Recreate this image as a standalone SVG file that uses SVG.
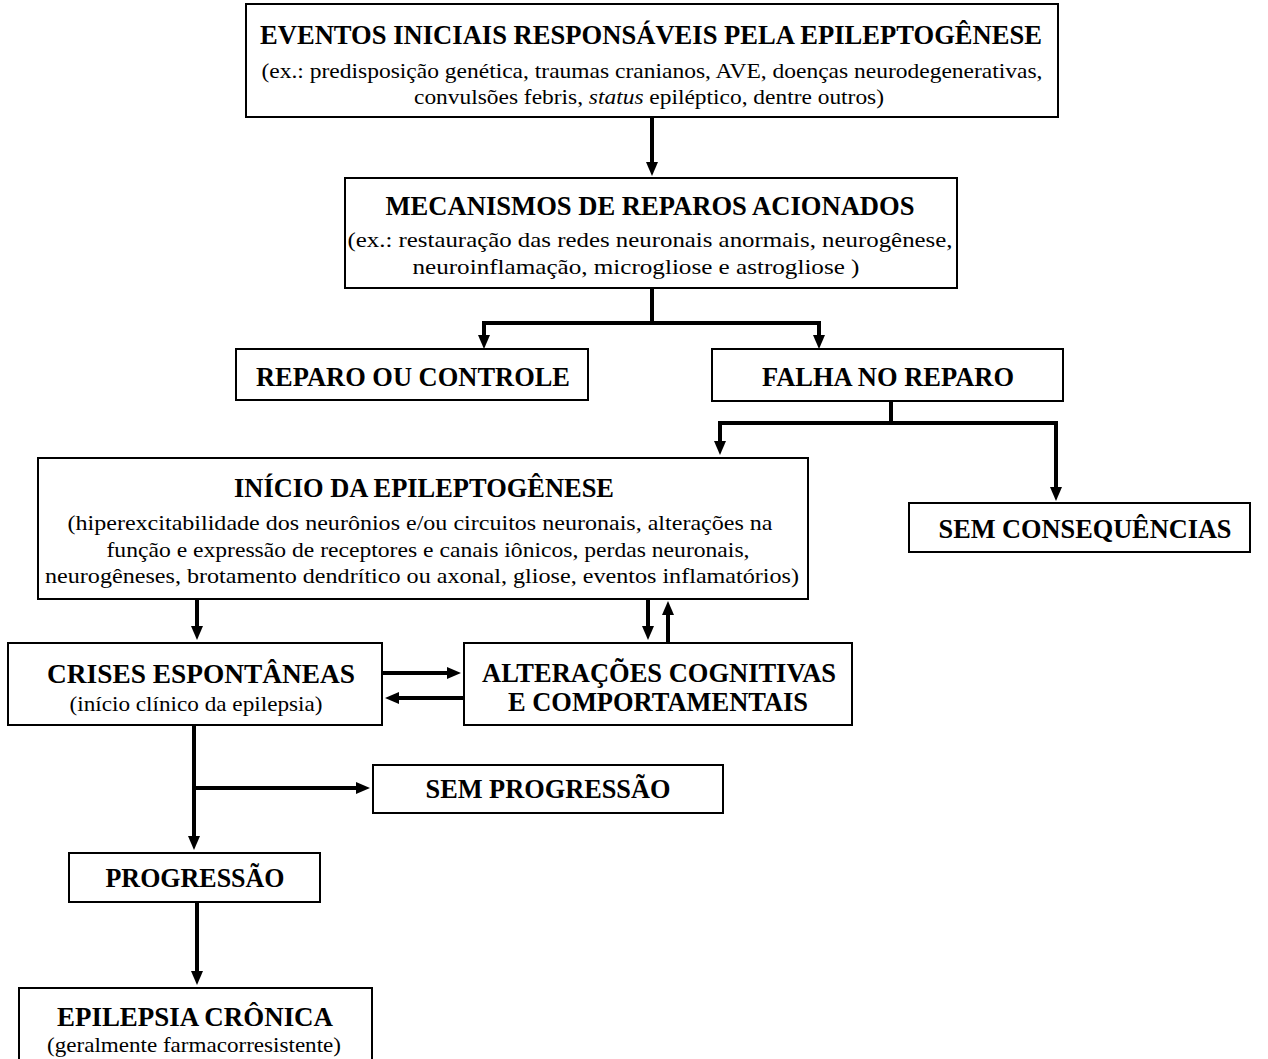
<svg xmlns="http://www.w3.org/2000/svg" width="1268" height="1059" viewBox="0 0 1268 1059">
  <defs>
    <marker id="head" viewBox="0 0 14 12" refX="1" refY="6" markerWidth="14" markerHeight="12" markerUnits="userSpaceOnUse" orient="auto-start-reverse">
      <path d="M0,0 L14,6 L0,12 z" fill="#000"/>
    </marker>
    <style>
      .box { fill: #fff; stroke: #000; stroke-width: 2; }
      .t { font-family: 'Liberation Serif', 'Times New Roman', Times, serif; fill: #000; text-anchor: middle; }
      .h { font-weight: bold; font-size: 28px; }
      .s { font-size: 21px; }
      .wire { fill: none; stroke: #000; stroke-width: 4; }
      .arr { fill: none; stroke: #000; stroke-width: 4; marker-end: url(#head); }
    </style>
  </defs>
  <rect width="1268" height="1059" fill="#fff"/>

  <g id="connectors">
    <path class="arr" d="M652,117 V163"/>
    <path class="wire" d="M652,288 V323"/>
    <path class="arr" style="marker-start:url(#head)" d="M484,336 V323 H819 V336"/>
    <path class="wire" d="M891,401 V423"/>
    <path class="arr" style="marker-start:url(#head)" d="M720,442 V423 H1056 V488"/>
    <path class="arr" d="M197,599 V627"/>
    <path class="arr" d="M648,599 V627"/>
    <path class="arr" d="M668,643 V614"/>
    <path class="arr" d="M382,673 H448"/>
    <path class="arr" d="M464,698 H398"/>
    <path class="arr" d="M194,725 V837"/>
    <path class="arr" d="M194,788 H357"/>
    <path class="arr" d="M197,902 V972"/>
  </g>

  <g id="eventos-iniciais">
    <rect class="box" x="246" y="4" width="812" height="113"/>
    <text class="t h" x="651" y="44" textLength="782" lengthAdjust="spacingAndGlyphs">EVENTOS INICIAIS RESPONSÁVEIS PELA EPILEPTOGÊNESE</text>
    <text class="t s" x="652" y="78" textLength="781" lengthAdjust="spacingAndGlyphs">(ex.: predisposição genética, traumas cranianos, AVE, doenças neurodegenerativas,</text>
    <text class="t s" x="649" y="104" textLength="470" lengthAdjust="spacingAndGlyphs">convulsões febris, <tspan font-style="italic">status</tspan> epiléptico, dentre outros)</text>
  </g>

  <g id="mecanismos-reparo">
    <rect class="box" x="345" y="178" width="612" height="110"/>
    <text class="t h" x="650" y="215" textLength="529" lengthAdjust="spacingAndGlyphs">MECANISMOS DE REPAROS ACIONADOS</text>
    <text class="t s" x="650" y="247" textLength="605" lengthAdjust="spacingAndGlyphs">(ex.: restauração das redes neuronais anormais, neurogênese,</text>
    <text class="t s" x="636" y="274" textLength="447" lengthAdjust="spacingAndGlyphs">neuroinflamação, microgliose e astrogliose )</text>
  </g>

  <g id="reparo-controle">
    <rect class="box" x="236" y="349" width="352" height="51"/>
    <text class="t h" x="413" y="386" textLength="314" lengthAdjust="spacingAndGlyphs">REPARO OU CONTROLE</text>
  </g>

  <g id="falha-reparo">
    <rect class="box" x="712" y="349" width="351" height="52"/>
    <text class="t h" x="888" y="386" textLength="252" lengthAdjust="spacingAndGlyphs">FALHA NO REPARO</text>
  </g>

  <g id="inicio-epileptogenese">
    <rect class="box" x="38" y="458" width="770" height="141"/>
    <text class="t h" x="424" y="497" textLength="380" lengthAdjust="spacingAndGlyphs">INÍCIO DA EPILEPTOGÊNESE</text>
    <text class="t s" x="420" y="530" textLength="705" lengthAdjust="spacingAndGlyphs">(hiperexcitabilidade dos neurônios e/ou circuitos neuronais, alterações na</text>
    <text class="t s" x="428" y="557" textLength="643" lengthAdjust="spacingAndGlyphs">função e expressão de receptores e canais iônicos, perdas neuronais,</text>
    <text class="t s" x="422" y="583" textLength="754" lengthAdjust="spacingAndGlyphs">neurogêneses, brotamento dendrítico ou axonal, gliose, eventos inflamatórios)</text>
  </g>

  <g id="sem-consequencias">
    <rect class="box" x="909" y="503" width="341" height="49"/>
    <text class="t h" x="1085" y="538" textLength="293" lengthAdjust="spacingAndGlyphs">SEM CONSEQUÊNCIAS</text>
  </g>

  <g id="crises-espontaneas">
    <rect class="box" x="8" y="643" width="374" height="82"/>
    <text class="t h" x="201" y="683" textLength="308" lengthAdjust="spacingAndGlyphs">CRISES ESPONTÂNEAS</text>
    <text class="t s" x="196" y="711" textLength="253" lengthAdjust="spacingAndGlyphs">(início clínico da epilepsia)</text>
  </g>

  <g id="alteracoes-cognitivas">
    <rect class="box" x="464" y="643" width="388" height="82"/>
    <text class="t h" x="659" y="682" textLength="354" lengthAdjust="spacingAndGlyphs">ALTERAÇÕES COGNITIVAS</text>
    <text class="t h" x="658" y="711" textLength="300" lengthAdjust="spacingAndGlyphs">E COMPORTAMENTAIS</text>
  </g>

  <g id="sem-progressao">
    <rect class="box" x="373" y="765" width="350" height="48"/>
    <text class="t h" x="548" y="798" textLength="245" lengthAdjust="spacingAndGlyphs">SEM PROGRESSÃO</text>
  </g>

  <g id="progressao">
    <rect class="box" x="69" y="853" width="251" height="49"/>
    <text class="t h" x="195" y="887" textLength="179" lengthAdjust="spacingAndGlyphs">PROGRESSÃO</text>
  </g>

  <g id="epilepsia-cronica">
    <rect class="box" x="19" y="988" width="353" height="80"/>
    <text class="t h" x="195" y="1026" textLength="276" lengthAdjust="spacingAndGlyphs">EPILEPSIA CRÔNICA</text>
    <text class="t s" x="194" y="1052" textLength="294" lengthAdjust="spacingAndGlyphs">(geralmente farmacorresistente)</text>
  </g>
</svg>
